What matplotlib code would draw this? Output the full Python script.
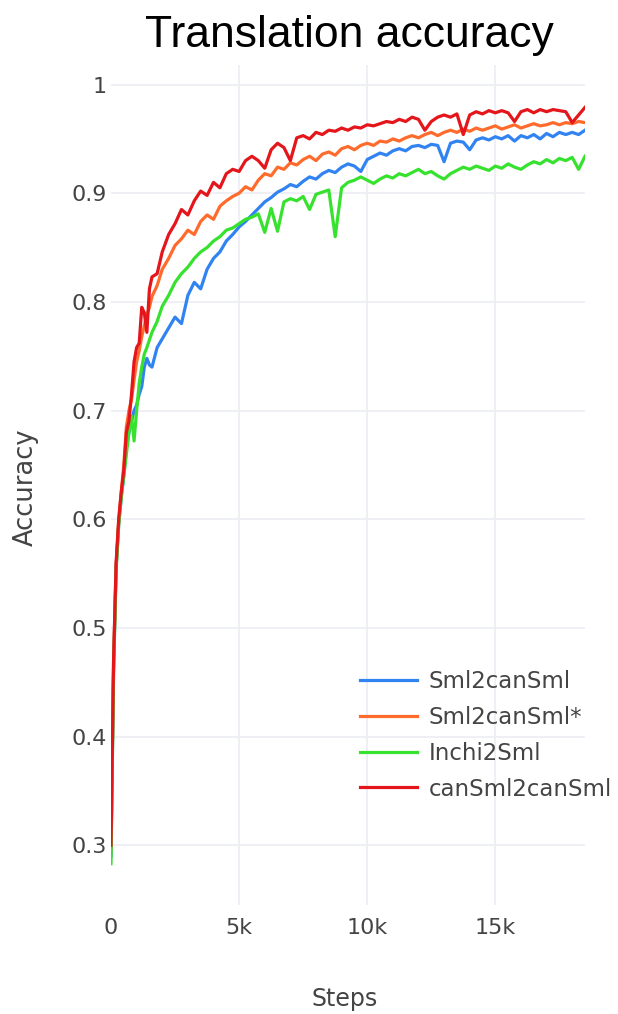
import matplotlib
matplotlib.use("Agg")
import matplotlib.pyplot as plt

# Training steps at which accuracy was logged
steps = list(range(0, 1700, 100)) + [1800, 2000] + list(range(2250, 18501, 250))

sml2cansml = [
    0.290, 0.462, 0.555, 0.595, 0.620, 0.640, 0.665, 0.680, 0.690, 0.700,
    0.705, 0.715, 0.722, 0.740, 0.748, 0.742, 0.740, 0.758, 0.766, 0.776,
    0.786, 0.780, 0.806, 0.818, 0.812, 0.830, 0.840, 0.846, 0.856, 0.862,
    0.869, 0.874, 0.880, 0.886, 0.892, 0.896, 0.901, 0.904, 0.908, 0.906,
    0.911, 0.915, 0.913, 0.918, 0.921, 0.919, 0.924, 0.927, 0.925, 0.920,
    0.931, 0.934, 0.937, 0.935, 0.939, 0.941, 0.939, 0.943, 0.944, 0.942,
    0.945, 0.944, 0.929, 0.946, 0.948, 0.947, 0.940, 0.949, 0.951, 0.949,
    0.952, 0.950, 0.953, 0.948, 0.953, 0.951, 0.954, 0.950, 0.955, 0.952,
    0.956, 0.954, 0.956, 0.954, 0.958,
]

sml2cansml_star = [
    0.295, 0.468, 0.558, 0.598, 0.625, 0.650, 0.685, 0.700, 0.710, 0.728,
    0.745, 0.755, 0.768, 0.778, 0.788, 0.795, 0.805, 0.815, 0.830, 0.840,
    0.852, 0.858, 0.866, 0.862, 0.874, 0.880, 0.876, 0.888, 0.893, 0.897,
    0.900, 0.906, 0.903, 0.912, 0.918, 0.916, 0.924, 0.922, 0.928, 0.926,
    0.931, 0.934, 0.930, 0.936, 0.938, 0.935, 0.941, 0.943, 0.940, 0.944,
    0.946, 0.944, 0.948, 0.947, 0.950, 0.948, 0.951, 0.953, 0.951, 0.954,
    0.956, 0.953, 0.956, 0.958, 0.956, 0.959, 0.957, 0.960, 0.958, 0.960,
    0.962, 0.959, 0.961, 0.963, 0.960, 0.962, 0.964, 0.962, 0.963, 0.965,
    0.963, 0.965, 0.964, 0.966, 0.965,
]

inchi2sml = [
    0.283, 0.458, 0.553, 0.595, 0.620, 0.640, 0.660, 0.680, 0.695, 0.672,
    0.700, 0.725, 0.740, 0.752, 0.758, 0.765, 0.772, 0.782, 0.796, 0.806,
    0.818, 0.826, 0.832, 0.840, 0.846, 0.850, 0.856, 0.860, 0.866, 0.868,
    0.872, 0.876, 0.878, 0.881, 0.864, 0.886, 0.865, 0.892, 0.895, 0.893,
    0.897, 0.885, 0.899, 0.901, 0.903, 0.860, 0.905, 0.910, 0.912, 0.915,
    0.912, 0.909, 0.913, 0.916, 0.914, 0.918, 0.916, 0.919, 0.922, 0.918,
    0.920, 0.916, 0.913, 0.918, 0.921, 0.924, 0.922, 0.925, 0.923, 0.921,
    0.925, 0.923, 0.927, 0.924, 0.922, 0.926, 0.929, 0.927, 0.931, 0.928,
    0.932, 0.930, 0.933, 0.922, 0.934,
]

cansml2cansml = [
    0.300, 0.470, 0.560, 0.600, 0.625, 0.645, 0.680, 0.690, 0.715, 0.745,
    0.758, 0.762, 0.795, 0.790, 0.772, 0.812, 0.823, 0.826, 0.846, 0.862,
    0.872, 0.885, 0.880, 0.893, 0.902, 0.898, 0.910, 0.905, 0.918, 0.922,
    0.920, 0.930, 0.934, 0.930, 0.923, 0.940, 0.946, 0.942, 0.930, 0.951,
    0.953, 0.950, 0.956, 0.954, 0.958, 0.957, 0.960, 0.958, 0.961, 0.960,
    0.963, 0.962, 0.964, 0.966, 0.965, 0.968, 0.966, 0.970, 0.968, 0.958,
    0.966, 0.970, 0.972, 0.970, 0.973, 0.954, 0.972, 0.975, 0.973, 0.976,
    0.974, 0.976, 0.974, 0.966, 0.975, 0.977, 0.974, 0.977, 0.975, 0.977,
    0.976, 0.975, 0.965, 0.972, 0.979,
]

series_names = ["Sml2canSml", "Sml2canSml*", "Inchi2Sml", "canSml2canSml"]
series_colors = ["#3183F2", "#FF6B2C", "#37E22F", "#E4161C"]

x_ticks = [0, 5000, 10000, 15000]
x_tick_labels = ["0", "5k", "10k", "15k"]
y_ticks = [0.3, 0.4, 0.5, 0.6, 0.7, 0.8, 0.9, 1.0]
y_tick_labels = ["0.3", "0.4", "0.5", "0.6", "0.7", "0.8", "0.9", "1"]

W, H = 618, 1014
fig = plt.figure(figsize=(W / 100, H / 100), dpi=100)
fig.patch.set_facecolor("white")

left, right, top, bottom = 111, 585, 65, 905
ax = fig.add_axes([left / W, 1 - bottom / H, (right - left) / W, (bottom - top) / H])

grid_color = "#EBEEF3"
for y in y_ticks:
    ax.axhline(y, color=grid_color, lw=1.2, zorder=0)
for x in x_ticks[1:]:
    ax.axvline(x, color=grid_color, lw=1.2, zorder=0)

all_series = [sml2cansml, sml2cansml_star, inchi2sml, cansml2cansml]
for vals, name, col in zip(all_series, series_names, series_colors):
    ax.plot(steps, vals, color=col, lw=2.3, label=name, solid_joinstyle="round")

ax.set_xlim(0, 18500)
ax.set_ylim(0.245, 1.018)
for s in ax.spines.values():
    s.set_visible(False)

tick_font = dict(family="DejaVu Sans", size=16, color="#444444")
ax.set_xticks(x_ticks)
ax.set_xticklabels(x_tick_labels, **tick_font)
ax.set_yticks(y_ticks)
ax.set_yticklabels(y_tick_labels, **tick_font)
ax.tick_params(axis="both", length=0)
ax.tick_params(axis="x", pad=9)
ax.tick_params(axis="y", pad=3)

fig.text(349 / W, 1 - 35 / H, "Translation accuracy", ha="center", va="center",
         family="Liberation Sans", fontsize=32, color="black")
fig.text(345 / W, 1 - 999 / H, "Steps", ha="center", va="center",
         family="DejaVu Sans", fontsize=17, color="#444444")
fig.text(26 / W, 1 - 487 / H, "Accuracy", ha="center", va="center", rotation=90,
         family="DejaVu Sans", fontsize=18.5, color="#444444")

fig.legend(loc="upper left", bbox_to_anchor=(360 / W, 1 - 670 / H), frameon=False,
           prop=dict(family="DejaVu Sans", size=16.5), labelcolor="#444444",
           handlelength=2.5, handletextpad=0.48, labelspacing=0.56,
           borderaxespad=0, borderpad=0)

fig.savefig("out.png", dpi=100)
